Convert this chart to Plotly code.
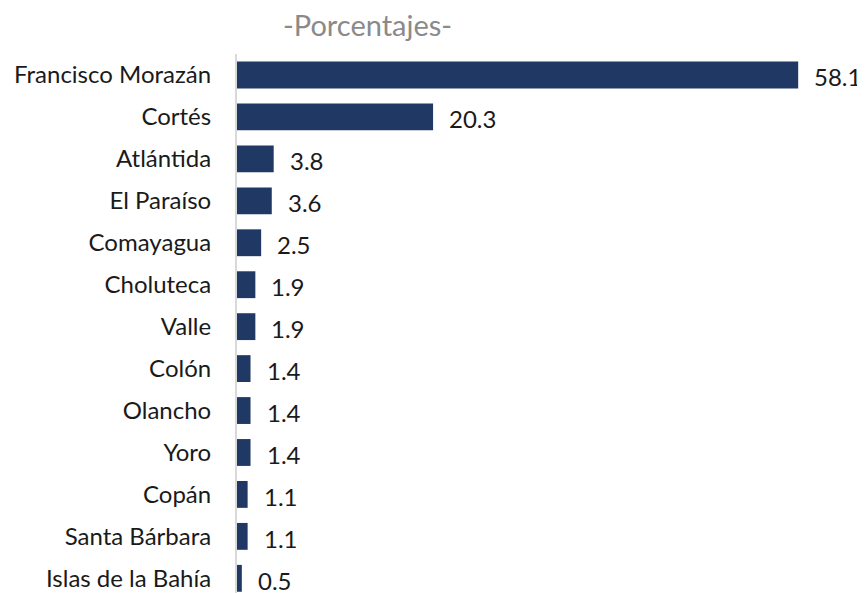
import plotly.graph_objects as go

departamentos = ["Francisco Morazán", "Cortés", "Atlántida", "El Paraíso", "Comayagua",
                 "Choluteca", "Valle", "Colón", "Olancho", "Yoro", "Copán",
                 "Santa Bárbara", "Islas de la Bahía"]
porcentajes = [58.1, 20.3, 3.8, 3.6, 2.5, 1.9, 1.9, 1.4, 1.4, 1.4, 1.1, 1.1, 0.5]
titulo = "-Porcentajes-"

FONT = "Lato"
fig = go.Figure()
fig.add_trace(go.Bar(
    x=porcentajes, y=departamentos, orientation="h",
    marker=dict(color="#203864", line=dict(width=0)),
    hoverinfo="skip",
))

for d, v in zip(departamentos, porcentajes):
    fig.add_annotation(x=v, y=d, xref="x", yref="y", text=f"{v:.1f}",
                       showarrow=False, xanchor="left", yanchor="middle",
                       xshift=14, yshift=-2,
                       font=dict(family=FONT, size=24, color="#1a1a1a"))

fig.add_annotation(x=0.21, y=1.054, xref="paper", yref="paper", text=titulo,
                   showarrow=False, xanchor="center", yanchor="middle",
                   font=dict(family=FONT, size=29, color="#8a8a8a"))

fig.update_layout(
    width=857, height=585,
    margin=dict(l=229, r=5, t=46, b=0),
    paper_bgcolor="white", plot_bgcolor="white",
    bargap=0.36, showlegend=False,
    xaxis=dict(range=[0, 64.5], visible=False, fixedrange=True),
    yaxis=dict(categoryorder="array", categoryarray=departamentos,
               range=[12.35, -0.5], showline=True, linecolor="#d9d9d9", linewidth=2,
               ticks="", showgrid=False, zeroline=False,
               ticklabelstandoff=19,
               tickfont=dict(family=FONT, size=24, color="#1a1a1a")),
)
fig.write_html("out.html")
